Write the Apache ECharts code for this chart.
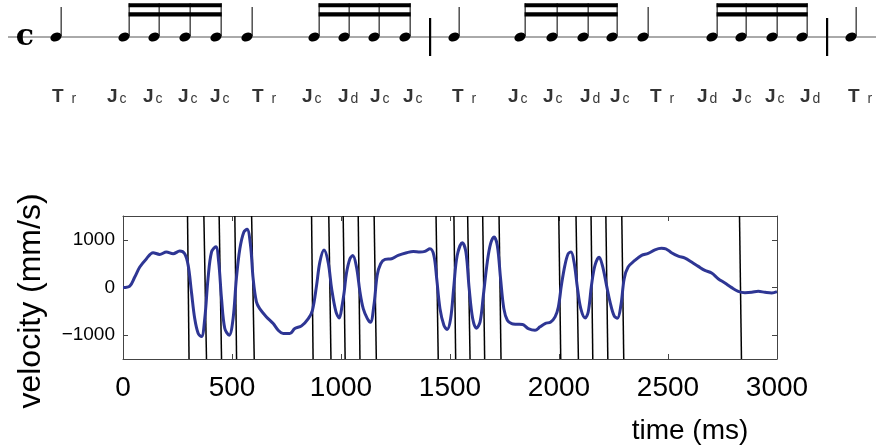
<!DOCTYPE html>
<html><head><meta charset="utf-8">
<script src="https://cdn.jsdelivr.net/npm/echarts@6/dist/echarts.min.js"></script>
<style>html,body{margin:0;padding:0;background:#fff}#c{width:876px;height:448px}</style>
</head><body><div id="c"></div>
<script>
// ---- data ----
const timeMs = [0,31,54,77,107,138,168,199,230,260,283,299,314,329,345,360,375,390,406,426,439,452,467,487,505,520,536,554,569,585,597,612,627,658,689,712,735,765,788,819,850,869,888,903,922,941,957,977,992,1005,1015,1025,1041,1054,1071,1087,1102,1121,1135,1151,1166,1182,1202,1232,1262,1301,1332,1362,1385,1408,1426,1439,1454,1472,1487,1503,1518,1533,1557,1573,1588,1604,1621,1638,1653,1671,1686,1702,1717,1732,1747,1763,1783,1806,1833,1859,1890,1913,1936,1962,1982,1997,2011,2027,2042,2055,2069,2085,2100,2120,2134,2149,2165,2184,2199,2218,2234,2253,2268,2284,2299,2317,2348,2379,2409,2440,2470,2490,2516,2547,2578,2608,2639,2669,2700,2730,2761,2792,2822,2853,2884,2914,2945,2976,3000];
const velocity = [0,30,220,430,600,730,694,743,708,764,708,464,-94,-652,-966,-1030,-652,185,743,855,533,-234,-861,-1000,-652,185,812,1161,1220,882,185,-303,-443,-617,-757,-896,-966,-966,-861,-805,-652,-478,45,533,785,533,-24,-513,-640,-380,-80,300,603,670,429,-94,-443,-652,-730,-373,255,499,589,603,673,729,757,743,757,812,673,185,-443,-791,-880,-652,45,673,938,743,-24,-652,-855,-722,-164,533,917,1060,882,185,-443,-687,-757,-771,-778,-861,-896,-826,-757,-722,-617,-408,45,464,708,745,533,-24,-443,-640,-513,45,464,635,464,45,-303,-596,-645,-373,185,429,568,673,715,791,822,812,729,659,617,533,443,359,303,185,94,-3,-80,-108,-101,-80,-101,-115,-87];
const eventTop    = [296,371,441,513,590,865,944,1010,1079,1152,1436,1518,1581,1650,1725,1999,2078,2147,2215,2288,2828];
const eventBottom = [303,383,452,521,602,872,954,1019,1087,1162,1446,1526,1592,1659,1734,2008,2089,2155,2224,2297,2837];
const xTicks = [0,500,1000,1500,2000,2500,3000];
const yTicks = [-1000,0,1000];
const noteKind = ['q','s','s','s','s','q','s','s','s','s','bar','q','s','s','s','s','q','s','s','s','s','bar','q'];
const notePos  = [56,124,154,185,216,247,314,344,374,405,430,454,520,552,583,612,643,712,741,772,802,827,851];
const labelMain = ['T','J','J','J','J','T','J','J','J','J','T','J','J','J','J','T','J','J','J','J','T'];
const labelSub  = ['r','c','c','c','c','r','c','d','c','c','r','c','c','d','c','r','d','c','c','d','r'];
const labelPos  = [52,107,143,178,210,252,302,338,370,403,452,508,543,580,610,650,697,732,765,800,848];

// ---- layout ----
const FAMILY = '"Liberation Sans", Arial, Helvetica, sans-serif';
const STAFF_Y = 37, LABEL_BOTTOM = 105.8;
const X_MIN = 0, X_MAX = 3000, Y_MIN = -1500, Y_MAX = 1500;
const AX = '#444';

const chart = echarts.init(document.getElementById('c'), null, {renderer:'canvas'});

// beam groups from consecutive sixteenth notes
const beamGroups = [];
{
  let start = null;
  noteKind.forEach((k,i)=>{
    if (k==='s') { if (start===null) start=i; }
    else if (start!==null) { beamGroups.push([notePos[start], notePos[i-1]]); start=null; }
  });
  if (start!==null) beamGroups.push([notePos[start], notePos[noteKind.length-1]]);
}

const minus = v => String(v).replace('-', '\u2212');

chart.setOption({
  animation:false,
  grid:[
    {left:123, right:99, top:216, bottom:89, show:false},
    {left:0, right:0, top:0, bottom:0, show:false}
  ],
  xAxis:[
    {gridIndex:0, type:'value', min:X_MIN, max:X_MAX, interval:500, position:'bottom',
     axisLine:{show:true, onZero:false, lineStyle:{color:AX, width:1}},
     axisTick:{show:true, inside:true, length:5, lineStyle:{color:AX}},
     axisLabel:{show:true, fontFamily:FAMILY, fontSize:28, color:'#000', margin:15, formatter:v=>String(v)},
     splitLine:{show:false}},
    {gridIndex:0, type:'value', min:X_MIN, max:X_MAX, interval:500, position:'top',
     axisLine:{show:true, onZero:false, lineStyle:{color:AX, width:1}},
     axisTick:{show:true, inside:true, length:5, lineStyle:{color:AX}},
     axisLabel:{show:false}, splitLine:{show:false}},
    {gridIndex:1, type:'value', min:0, max:876, show:false}
  ],
  yAxis:[
    {gridIndex:0, type:'value', min:Y_MIN, max:Y_MAX, position:'left',
     axisLine:{show:true, onZero:false, lineStyle:{color:AX, width:1}},
     axisTick:{show:true, inside:true, length:5, lineStyle:{color:AX}, customValues:yTicks},
     axisLabel:{show:true, fontFamily:FAMILY, fontSize:19, color:'#000', margin:8, customValues:yTicks, formatter:minus},
     splitLine:{show:false}},
    {gridIndex:0, type:'value', min:Y_MIN, max:Y_MAX, position:'right',
     axisLine:{show:true, onZero:false, lineStyle:{color:AX, width:1}},
     axisTick:{show:true, inside:true, length:5, lineStyle:{color:AX}, customValues:yTicks},
     axisLabel:{show:false}, splitLine:{show:false}},
    {gridIndex:1, type:'value', min:0, max:448, inverse:true, show:false}
  ],
  graphic:[
    {type:'line', shape:{x1:8, y1:STAFF_Y, x2:876, y2:STAFF_Y}, style:{stroke:'#555', lineWidth:1}, z:1},
    {type:'text', x:25, y:STAFF_Y, z:5, style:{text:'c', font:'bold 30px "DejaVu Serif", serif', fill:'#000', align:'center', verticalAlign:'middle'}},
    {type:'text', x:31, y:301, rotation:Math.PI/2, style:{text:'velocity (mm/s)', font:'32px ' + FAMILY, fill:'#000', align:'center', verticalAlign:'middle'}},
    {type:'text', x:690, y:431, style:{text:'time (ms)', font:'28px ' + FAMILY, fill:'#000', align:'center', verticalAlign:'middle'}}
  ],
  series:[
    {
      name:'events', type:'custom', xAxisIndex:0, yAxisIndex:0, z:3,
      data: eventTop.map((t,i)=>[t, eventBottom[i]]),
      renderItem:(params, api)=>{
        const p1 = api.coord([api.value(0), Y_MAX]);
        const p2 = api.coord([api.value(1), Y_MIN]);
        return {type:'line', shape:{x1:p1[0], y1:p1[1], x2:p2[0], y2:p2[1]}, style:{stroke:'#000', lineWidth:1.5}};
      }
    },
    {
      name:'velocity', type:'line', xAxisIndex:0, yAxisIndex:0, z:4,
      data: timeMs.map((t,i)=>[t, velocity[i]]),
      showSymbol:false, smooth:0.35,
      lineStyle:{color:'#2e3694', width:3}
    },
    {
      name:'notes', type:'custom', xAxisIndex:2, yAxisIndex:2, z:6, clip:false,
      data: notePos.map(p=>[p]),
      renderItem:(params, api)=>{
        const kind = noteKind[params.dataIndex];
        const c = api.coord([api.value(0), STAFF_Y]);
        if (kind==='bar') {
          const t = api.coord([api.value(0), 18]), b = api.coord([api.value(0), 56]);
          return {type:'rect', shape:{x:c[0]-1, y:t[1], width:2.2, height:b[1]-t[1]}, style:{fill:'#000'}};
        }
        const top = api.coord([api.value(0), kind==='s' ? 3.3 : 7])[1];
        return {type:'group', children:[
          {type:'ellipse', shape:{cx:0, cy:0, rx:5.8, ry:4.3}, x:c[0], y:c[1], rotation:0.45, style:{fill:'#000'}},
          {type:'rect', shape:{x:c[0]+4.6, y:top, width:1.1, height:c[1]-1-top}, style:{fill:'#111'}}
        ]};
      }
    },
    {
      name:'beams', type:'custom', xAxisIndex:2, yAxisIndex:2, z:6, clip:false,
      data: beamGroups,
      renderItem:(params, api)=>{
        const a = api.coord([api.value(0), 3.3]);
        const b = api.coord([api.value(1), 12.3]);
        const x0 = a[0]+4.6, x1 = b[0]+5.7;
        return {type:'group', children:[
          {type:'rect', shape:{x:x0, y:a[1], width:x1-x0, height:4}, style:{fill:'#000'}},
          {type:'rect', shape:{x:x0, y:b[1], width:x1-x0, height:4.2}, style:{fill:'#000'}}
        ]};
      }
    },
    {
      name:'labels', type:'scatter', xAxisIndex:2, yAxisIndex:2, z:6,
      data: labelPos.map((p,i)=>({value:[p, LABEL_BOTTOM], main:labelMain[i], sub:labelSub[i]})),
      symbolSize:1, itemStyle:{color:'rgba(0,0,0,0)'}, silent:true,
      label:{
        show:true, position:[0.5,0.5], align:'left', verticalAlign:'bottom', color:'#000',
        formatter:(p)=>{
          const d = p.data;
          return '{m|'+d.main+'}{'+(d.main==='T'?'st':'sj')+'|'+d.sub+'}';
        },
        rich:{
          m:{fontFamily:FAMILY, fontSize:19, fontWeight:'bold', color:'#000', lineHeight:19, verticalAlign:'bottom'},
          st:{fontFamily:FAMILY, fontSize:14, color:'#000', lineHeight:15.6, verticalAlign:'bottom', padding:[0,0,0,8]},
          sj:{fontFamily:FAMILY, fontSize:14, color:'#000', lineHeight:15.6, verticalAlign:'bottom', padding:[0,0,0,2]}
        }
      }
    }
  ]
});
</script>
</body></html>
